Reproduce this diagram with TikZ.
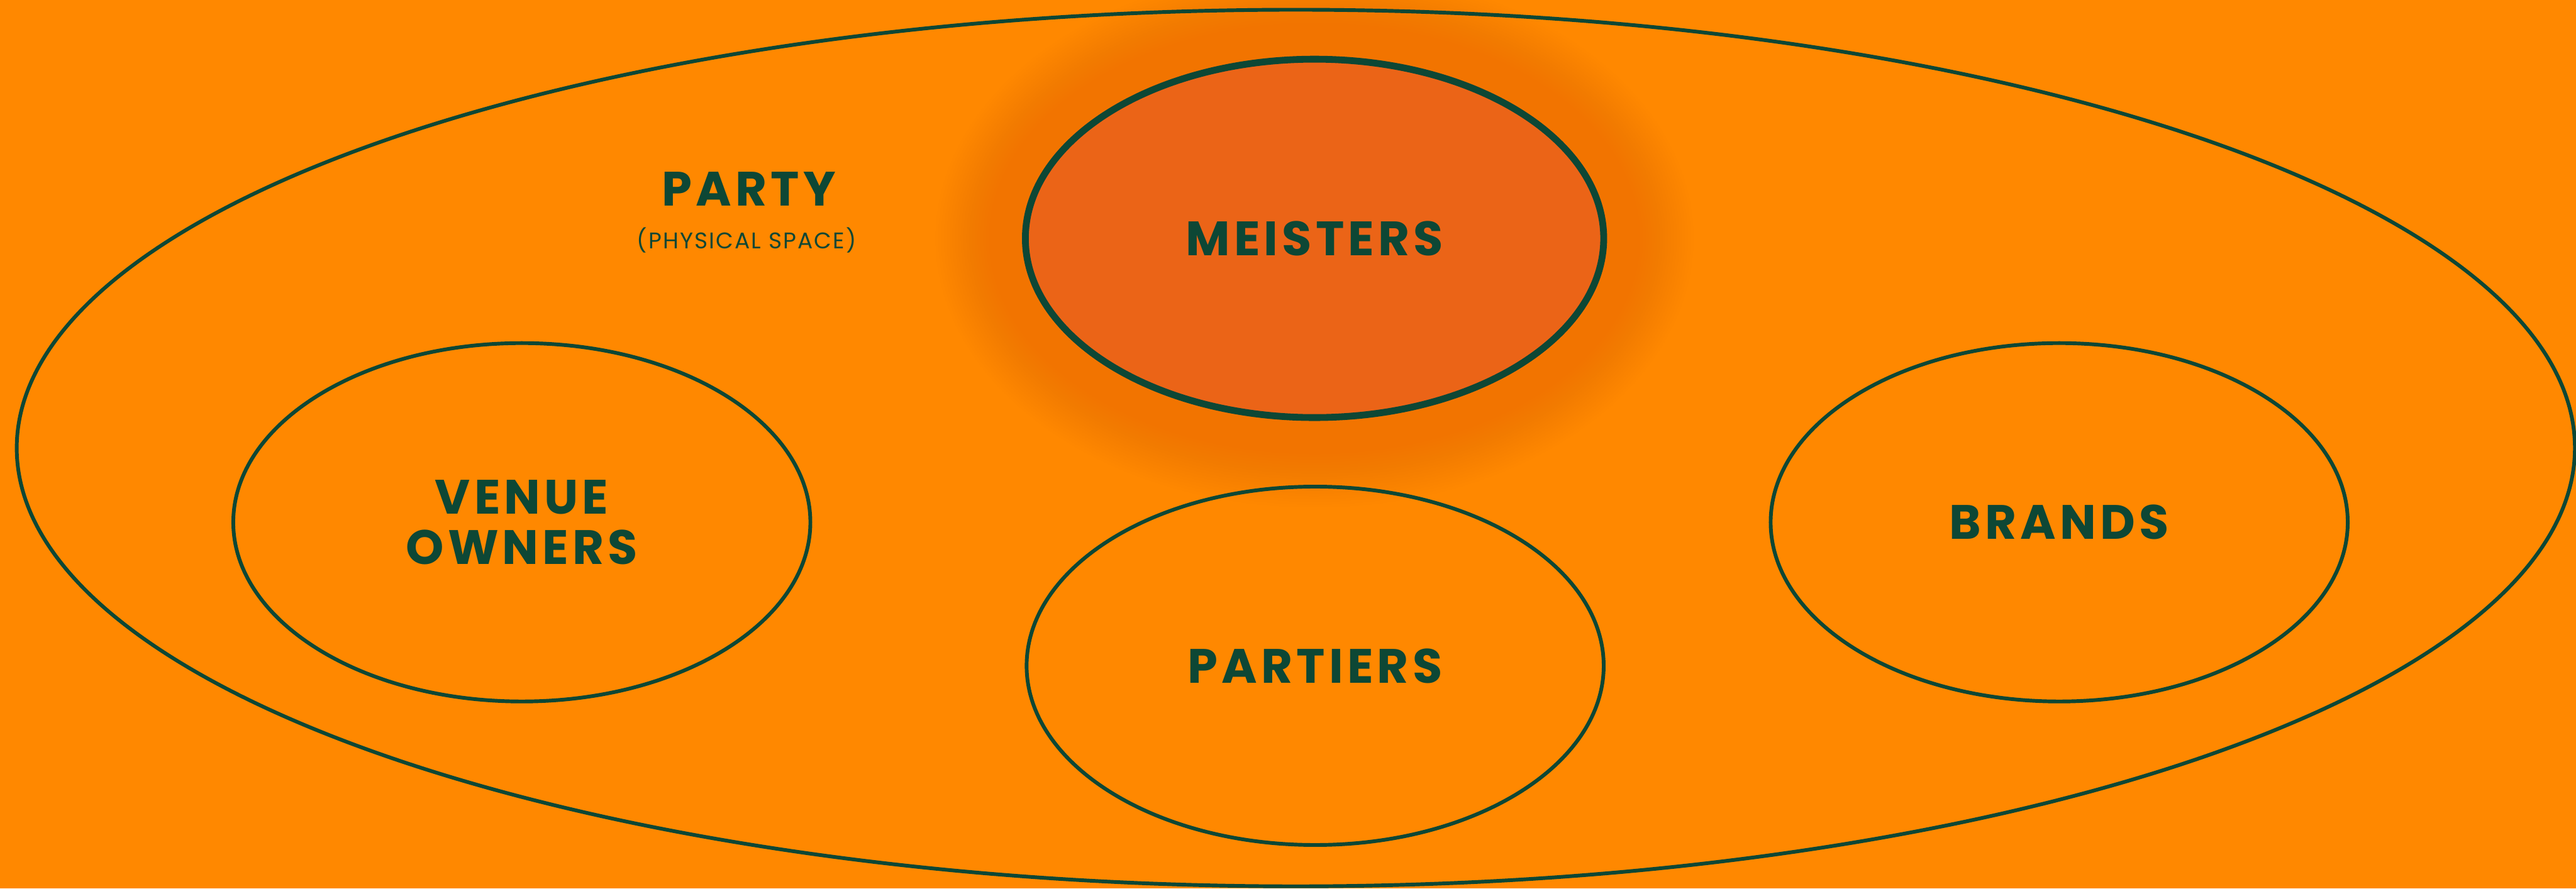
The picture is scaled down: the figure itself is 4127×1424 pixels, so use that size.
\documentclass[tikz,border=0pt]{standalone}
\usepackage{fontspec}
\usetikzlibrary{shapes.geometric}
\newfontfamily\labelfont{Poppins}[LetterSpace=8]
\newfontfamily\subfont{Poppins}[LetterSpace=6]
\definecolor{bgorange}{HTML}{FF8800}
\definecolor{deepgreen}{HTML}{0D4735}
\definecolor{meisterfill}{HTML}{EB6417}
\definecolor{glowcol}{HTML}{F27400}
\tikzset{
  group/.style={ellipse, draw=deepgreen, line width=1.7pt, inner sep=0pt,
    minimum width=9.24cm, minimum height=5.74cm},
  biglabel/.style={text=deepgreen, font=\labelfont\bfseries\fontsize{22}{25}\selectfont, align=center},
  smalllabel/.style={text=deepgreen, font=\subfont\fontsize{10.3}{12}\selectfont}
}
\begin{document}
\begin{tikzpicture}[x=0.01cm,y=-0.01cm]
\useasboundingbox (0,0) rectangle (4127,1424);
\fill[bgorange] (0,0) rectangle (4127,1424);
% glow behind MEISTERS
\foreach \i in {1,...,32}{
  \fill[glowcol, opacity=0.04] (2106,382) ellipse ({463+4.5*\i} and {287+4.5*\i});
}
\node[ellipse, draw=deepgreen, line width=1.7pt, inner sep=0pt,
  minimum width=40.96cm, minimum height=14.04cm] (party) at (2076,718) {};
\node[group, fill=meisterfill, line width=3.1pt, minimum width=9.26cm] (meisters) at (2106,382) {};
\node[group] (venue) at (836,837) {};
\node[group] (partiers) at (2107,1067) {};
\node[group] (brands) at (3299,837) {};
\node[biglabel] (partylbl) at (1200,303) {PARTY};
\node[smalllabel] (physlbl) at (1196,385) {(PHYSICAL SPACE)};
\node[biglabel] (meistlbl) at (meisters.center) {MEISTERS};
\node[biglabel] (venuelbl) at (venue.center) {VENUE\\[-2pt]OWNERS};
\node[biglabel] (partierslbl) at (partiers.center) {PARTIERS};
\node[biglabel] (brandslbl) at (brands.center) {BRANDS};
\end{tikzpicture}
\end{document}
